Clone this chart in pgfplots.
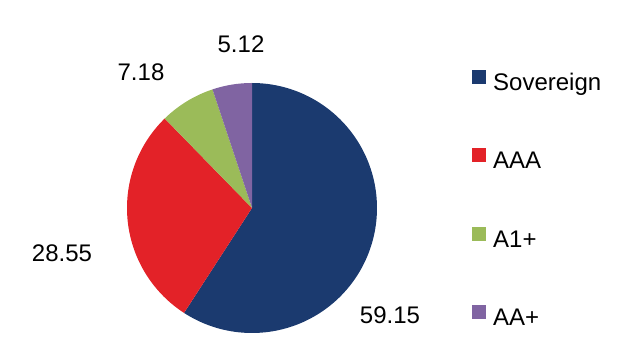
\documentclass[border=0pt]{standalone}
\usepackage{pgfplots}
\pgfplotsset{compat=1.18}
\usepackage{pgfplotstable}
\usepackage{fontspec}
\setmainfont{Liberation Sans}
\definecolor{cSov}{HTML}{1B3A6F}
\definecolor{cAAA}{HTML}{E32228}
\definecolor{cAone}{HTML}{9BBB59}
\definecolor{cAAp}{HTML}{8064A2}
\pgfplotstableread{
label value
Sovereign 59.15
AAA 28.55
A1+ 7.18
AA+ 5.12
}\piedata
\begin{document}%
\begin{tikzpicture}
\pgfplotstablegetelem{0}{value}\of\piedata \let\vA\pgfplotsretval
\pgfplotstablegetelem{1}{value}\of\piedata \let\vB\pgfplotsretval
\pgfplotstablegetelem{2}{value}\of\piedata \let\vC\pgfplotsretval
\pgfplotstablegetelem{3}{value}\of\piedata \let\vD\pgfplotsretval
\pgfmathsetmacro\aA{90}
\pgfmathsetmacro\aB{\aA-3.6*\vA}
\pgfmathsetmacro\aC{\aB-3.6*\vB}
\pgfmathsetmacro\aD{\aC-3.6*\vC}
\pgfmathsetmacro\aE{\aD-3.6*\vD}
\begin{axis}[name=ax,
  width=627bp, height=362bp, scale only axis,
  xmin=0, xmax=627, ymin=0, ymax=362,
  axis lines=none, ticks=none, clip=false,
  legend image code/.code={\fill[#1] (0bp,1bp) rectangle (14bp,15bp);},
  legend style={at={(axis cs:472,292)}, anchor=north west, draw=none, fill=none,
    inner sep=0pt, column sep=7bp, row sep=51.8bp,
    font=\fontsize{24bp}{28bp}\selectfont,
    nodes={inner sep=0pt, text height=17bp, text depth=6bp}},
  legend cell align=left,
]
\addplot[fill=cSov, draw=none, domain=\aB:\aA, samples=120] ({252+125*cos(x)},{154+125*sin(x)}) -- (axis cs:252,154) -- cycle;
\addplot[fill=cAAA, draw=none, domain=\aC:\aB, samples=80] ({252+125*cos(x)},{154+125*sin(x)}) -- (axis cs:252,154) -- cycle;
\addplot[fill=cAone, draw=none, domain=\aD:\aC, samples=30] ({252+125*cos(x)},{154+125*sin(x)}) -- (axis cs:252,154) -- cycle;
\addplot[fill=cAAp, draw=none, domain=\aE:\aD, samples=30] ({252+125*cos(x)},{154+125*sin(x)}) -- (axis cs:252,154) -- cycle;
\legend{Sovereign,AAA,A1+,AA+}
\begin{scope}[every node/.style={font=\fontsize{24bp}{28bp}\selectfont, inner sep=0pt}]
\node at (axis cs:390,47) {\vA};
\node at (axis cs:62,109) {\vB};
\node at (axis cs:141,290) {\vC};
\node at (axis cs:241,318) {\vD};
\end{scope}
\end{axis}
\pgfresetboundingbox
\path (ax.south west) rectangle (ax.north east);
\end{tikzpicture}%
\end{document}
